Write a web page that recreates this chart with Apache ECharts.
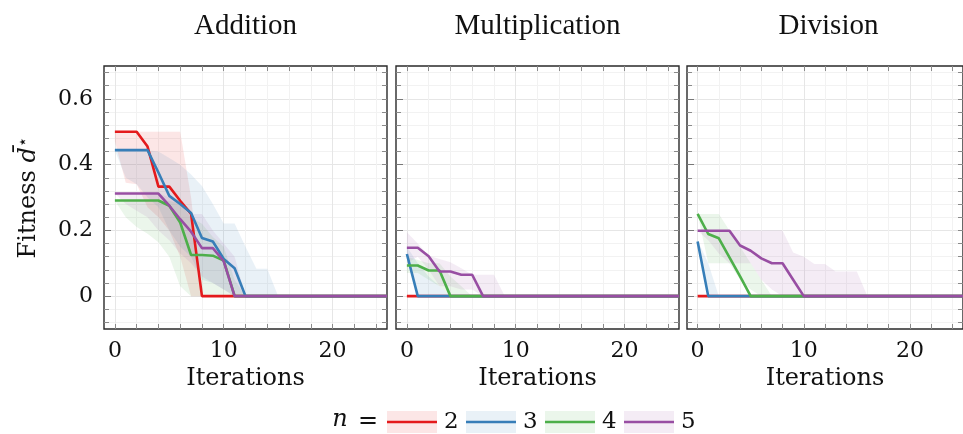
<!DOCTYPE html>
<html><head><meta charset="utf-8">
<script src="https://cdn.jsdelivr.net/npm/echarts@6/dist/echarts.min.js"></script>
<style>html,body{margin:0;padding:0;background:#fff}#c{width:963px;height:434px}</style>
</head><body><div id="c"></div>
<script>
// ---------- data ----------
const iterations = [0,1,2,3,4,5,6,7,8,9,10,11,12,13,14,15,16,17,18,19,20,21,22,23,24,25];
const panelTitles = ['Addition', 'Multiplication', 'Division'];
const nLabels = ['2', '3', '4', '5'];
const xTickLabels = ['0', '10', '20'];
const yTickLabels = [0, 0.2, 0.4, 0.6];
const yMinorTicks = [-0.08,-0.04,0,0.04,0.08,0.12,0.16,0.2,0.24,0.28,0.32,0.36,0.4,0.44,0.48,0.52,0.56,0.6,0.64,0.68];

// Addition
const add2Mean = [0.5,0.5,0.5,0.455,0.333,0.333,0.29,0.25,0,0,0,0,0,0,0,0,0,0,0,0,0,0,0,0,0,0];
const add2Lo   = [0.47,0.345,0.34,0.27,0.24,0.2,0.12,0,0,0,0,0,0,0,0,0,0,0,0,0,0,0,0,0,0,0];
const add2Hi   = [0.5,0.5,0.5,0.5,0.5,0.5,0.5,0.3,0,0,0,0,0,0,0,0,0,0,0,0,0,0,0,0,0,0];
const add3Mean = [0.444,0.444,0.444,0.444,0.376,0.305,0.28,0.253,0.177,0.166,0.113,0.085,0,0,0,0,0,0,0,0,0,0,0,0,0,0];
const add3Lo   = [0.444,0.36,0.34,0.3,0.27,0.2,0.15,0.12,0.05,0.04,0.02,0,0,0,0,0,0,0,0,0,0,0,0,0,0,0];
const add3Hi   = [0.444,0.444,0.444,0.444,0.44,0.42,0.4,0.37,0.335,0.28,0.221,0.221,0.15,0.083,0.083,0,0,0,0,0,0,0,0,0,0,0];
const add4Mean = [0.291,0.291,0.291,0.291,0.291,0.275,0.224,0.125,0.125,0.123,0.108,0,0,0,0,0,0,0,0,0,0,0,0,0,0,0];
const add4Lo   = [0.29,0.24,0.21,0.19,0.164,0.12,0.03,0,0,0,0,0,0,0,0,0,0,0,0,0,0,0,0,0,0,0];
const add4Hi   = [0.291,0.291,0.291,0.291,0.291,0.29,0.28,0.24,0.22,0.18,0.15,0.05,0,0,0,0,0,0,0,0,0,0,0,0,0,0];
const add5Mean = [0.312,0.312,0.312,0.312,0.312,0.275,0.234,0.196,0.146,0.146,0.106,0,0,0,0,0,0,0,0,0,0,0,0,0,0,0];
const add5Lo   = [0.312,0.28,0.26,0.24,0.2,0.17,0.13,0.1,0.06,0.04,0.02,0,0,0,0,0,0,0,0,0,0,0,0,0,0,0];
const add5Hi   = [0.312,0.312,0.312,0.312,0.312,0.3,0.28,0.25,0.25,0.2,0.16,0.12,0,0,0,0,0,0,0,0,0,0,0,0,0,0];

// Multiplication
const mul2Mean = [0,0,0,0,0,0,0,0,0,0,0,0,0,0,0,0,0,0,0,0,0,0,0,0,0,0];
const mul2Lo   = [0,0,0,0,0,0,0,0,0,0,0,0,0,0,0,0,0,0,0,0,0,0,0,0,0,0];
const mul2Hi   = [0,0,0,0,0,0,0,0,0,0,0,0,0,0,0,0,0,0,0,0,0,0,0,0,0,0];
const mul3Mean = [0.128,0,0,0,0,0,0,0,0,0,0,0,0,0,0,0,0,0,0,0,0,0,0,0,0,0];
const mul3Lo   = [0.11,0,0,0,0,0,0,0,0,0,0,0,0,0,0,0,0,0,0,0,0,0,0,0,0,0];
const mul3Hi   = [0.15,0.1,0.06,0.03,0,0,0,0,0,0,0,0,0,0,0,0,0,0,0,0,0,0,0,0,0,0];
const mul4Mean = [0.093,0.093,0.078,0.078,0,0,0,0,0,0,0,0,0,0,0,0,0,0,0,0,0,0,0,0,0,0];
const mul4Lo   = [0.07,0.07,0.05,0.03,0,0,0,0,0,0,0,0,0,0,0,0,0,0,0,0,0,0,0,0,0,0];
const mul4Hi   = [0.12,0.11,0.1,0.1,0.06,0.03,0,0,0,0,0,0,0,0,0,0,0,0,0,0,0,0,0,0,0,0];
const mul5Mean = [0.147,0.147,0.121,0.075,0.075,0.065,0.065,0,0,0,0,0,0,0,0,0,0,0,0,0,0,0,0,0,0,0];
const mul5Lo   = [0.1,0.12,0.08,0.03,0.03,0.02,0.02,0,0,0,0,0,0,0,0,0,0,0,0,0,0,0,0,0,0,0];
const mul5Hi   = [0.194,0.16,0.123,0.113,0.103,0.085,0.065,0.065,0.065,0,0,0,0,0,0,0,0,0,0,0,0,0,0,0,0,0];

// Division
const div2Mean = [0,0,0,0,0,0,0,0,0,0,0,0,0,0,0,0,0,0,0,0,0,0,0,0,0,0];
const div2Lo   = [0,0,0,0,0,0,0,0,0,0,0,0,0,0,0,0,0,0,0,0,0,0,0,0,0,0];
const div2Hi   = [0,0,0,0,0,0,0,0,0,0,0,0,0,0,0,0,0,0,0,0,0,0,0,0,0,0];
const div3Mean = [0.166,0,0,0,0,0,0,0,0,0,0,0,0,0,0,0,0,0,0,0,0,0,0,0,0,0];
const div3Lo   = [0.16,0,0,0,0,0,0,0,0,0,0,0,0,0,0,0,0,0,0,0,0,0,0,0,0,0];
const div3Hi   = [0.17,0.1,0,0,0,0,0,0,0,0,0,0,0,0,0,0,0,0,0,0,0,0,0,0,0,0];
const div4Mean = [0.25,0.189,0.176,0.118,0.06,0,0,0,0,0,0,0,0,0,0,0,0,0,0,0,0,0,0,0,0,0];
const div4Lo   = [0.25,0.1,0.1,0.1,0.05,0.02,0,0,0,0,0,0,0,0,0,0,0,0,0,0,0,0,0,0,0,0];
const div4Hi   = [0.25,0.25,0.25,0.2,0.15,0.1,0.05,0,0,0,0,0,0,0,0,0,0,0,0,0,0,0,0,0,0,0];
const div5Mean = [0.199,0.199,0.199,0.199,0.154,0.138,0.115,0.1,0.1,0.05,0,0,0,0,0,0,0,0,0,0,0,0,0,0,0,0];
const div5Lo   = [0.199,0.17,0.13,0.1,0.1,0.1,0.05,0.02,0,0,0,0,0,0,0,0,0,0,0,0,0,0,0,0,0,0];
const div5Hi   = [0.2,0.2,0.2,0.2,0.2,0.2,0.2,0.2,0.2,0.133,0.12,0.098,0.098,0.075,0.075,0.075,0,0,0,0,0,0,0,0,0,0];

// ---------- build ----------
const colors = ['#e41a1c', '#377eb8', '#4daf4a', '#984ea3'];
const bandColors = ['rgba(228,26,28,0.11)', 'rgba(55,126,184,0.11)', 'rgba(77,175,74,0.11)', 'rgba(152,78,163,0.11)'];
const panelData = [
  [[add2Mean, add2Lo, add2Hi], [add3Mean, add3Lo, add3Hi], [add4Mean, add4Lo, add4Hi], [add5Mean, add5Lo, add5Hi]],
  [[mul2Mean, mul2Lo, mul2Hi], [mul3Mean, mul3Lo, mul3Hi], [mul4Mean, mul4Lo, mul4Hi], [mul5Mean, mul5Lo, mul5Hi]],
  [[div2Mean, div2Lo, div2Hi], [div3Mean, div3Lo, div3Hi], [div4Mean, div4Lo, div4Hi], [div5Mean, div5Lo, div5Hi]]
];
const xCats = ['-1'].concat(iterations.map(String));
const FONT = 'DejaVu Serif';
const gridLefts = [104, 396, 687];
const gridW = 283, gridTop = 66, gridH = 263;

const every2 = (i, v) => Number(v) >= 0 && Number(v) % 2 === 0;
const labelAt = (i, v) => xTickLabels.indexOf(String(v)) >= 0;

const grids = [], xAxes = [], yAxes = [], bandSeries = [], lineSeries = [];
for (let g = 0; g < 3; g++) {
  grids.push({ left: gridLefts[g], top: gridTop, width: gridW, height: gridH, show: true,
    borderColor: '#2a2a2a', borderWidth: 1.4, backgroundColor: 'transparent' });
  const xi = xAxes.length;
  xAxes.push({ type: 'category', gridIndex: g, data: xCats, boundaryGap: false, position: 'bottom',
    axisLine: { show: false, onZero: false },
    axisTick: { show: true, inside: true, length: 5, interval: every2, lineStyle: { color: '#8a8a8a' } },
    axisLabel: { interval: labelAt, margin: 11, fontFamily: FONT, fontSize: 22, color: '#111' },
    splitLine: { show: true, interval: every2, lineStyle: { color: '#f2f2f2', width: 1 } },
    name: 'Iterations', nameLocation: 'middle', nameGap: 36,
    nameTextStyle: { fontFamily: FONT, fontSize: 24, color: '#111' } });
  xAxes.push({ type: 'category', gridIndex: g, data: xCats, boundaryGap: false, position: 'top',
    axisLine: { show: false, onZero: false },
    axisTick: { show: true, inside: true, length: 5, interval: every2, lineStyle: { color: '#8a8a8a' } },
    axisLabel: { show: false }, splitLine: { show: false } });
  xAxes.push({ type: 'category', gridIndex: g, data: xCats, boundaryGap: false, position: 'bottom',
    axisLine: { show: false, onZero: false }, axisTick: { show: false }, axisLabel: { show: false },
    splitLine: { show: true, interval: labelAt, lineStyle: { color: '#e6e6e6', width: 1 } } });

  const yi = yAxes.length;
  const yMain = { type: 'value', gridIndex: g, min: -0.1, max: 0.7, position: 'left',
    axisLine: { show: false, onZero: false },
    axisTick: { show: true, inside: true, length: 5, customValues: yMinorTicks, lineStyle: { color: '#8a8a8a' } },
    axisLabel: { show: g === 0, customValues: yTickLabels, margin: 11, fontFamily: FONT, fontSize: 22, color: '#111',
      formatter: v => (Math.abs(v) < 1e-9 ? '0' : v.toFixed(1)) },
    splitLine: { show: true, lineStyle: { color: '#f2f2f2', width: 1 } } };
  if (g === 0) {
    yMain.name = '{a|Fitness }{b|d\u0304}{c|\u22c6}';
    yMain.nameLocation = 'middle';
    yMain.nameGap = 62;
    yMain.nameTextStyle = { rich: {
      a: { fontFamily: FONT, fontSize: 24, color: '#111' },
      b: { fontFamily: FONT, fontSize: 24, fontStyle: 'italic', color: '#111' },
      c: { fontFamily: 'DejaVu Sans', fontSize: 17, color: '#111', verticalAlign: 'top', padding: [0, 0, 10, 0] } } };
  }
  yAxes.push(yMain);
  yAxes.push({ type: 'value', gridIndex: g, min: -0.1, max: 0.7, position: 'right',
    axisLine: { show: false, onZero: false },
    axisTick: { show: true, inside: true, length: 5, customValues: yMinorTicks, lineStyle: { color: '#8a8a8a' } },
    axisLabel: { show: false }, splitLine: { show: false } });
  yAxes.push({ type: 'value', gridIndex: g, min: -0.1, max: 0.7, position: 'left',
    axisLine: { show: false, onZero: false },
    axisTick: { show: true, inside: true, length: 7, customValues: yTickLabels, lineStyle: { color: '#777' } },
    axisLabel: { show: false },
    splitLine: { show: true, lineStyle: { color: '#e6e6e6', width: 1 } } });

  for (let k = 0; k < 4; k++) {
    const [mean, lo, hi] = panelData[g][k];
    const stackId = 'band' + g + '_' + k;
    bandSeries.push({ type: 'line', xAxisIndex: xi, yAxisIndex: yi, stack: stackId, symbol: 'none', silent: true,
      data: ['-'].concat(lo), lineStyle: { width: 0, opacity: 0 }, z: 2 });
    bandSeries.push({ type: 'line', xAxisIndex: xi, yAxisIndex: yi, stack: stackId, symbol: 'none', silent: true,
      data: ['-'].concat(hi.map((h, i) => h - lo[i])), lineStyle: { width: 0, opacity: 0 },
      areaStyle: { color: bandColors[k], opacity: 1 }, z: 2 });
    lineSeries.push({ type: 'line', name: nLabels[k], xAxisIndex: xi, yAxisIndex: yi, symbol: 'none',
      data: ['-'].concat(mean), lineStyle: { width: 2.6, color: colors[k] }, itemStyle: { color: colors[k] }, z: 3 });
  }
}

const graphics = [];
for (let g = 0; g < 3; g++) {
  graphics.push({ type: 'text', x: gridLefts[g] + gridW / 2, y: 26,
    style: { text: panelTitles[g], font: '29px "Liberation Serif"', fill: '#111',
      align: 'center', verticalAlign: 'middle', textAlign: 'center', textVerticalAlign: 'middle' } });
}
// legend
const legY = 422;
graphics.push({ type: 'text', x: 340, y: legY - 2, style: { text: 'n', font: 'italic 24px "DejaVu Serif"', fill: '#111',
  align: 'center', verticalAlign: 'middle', textAlign: 'center', textVerticalAlign: 'middle' } });
graphics.push({ type: 'text', x: 368, y: legY, style: { text: '=', font: '24px "DejaVu Serif"', fill: '#111',
  align: 'center', verticalAlign: 'middle', textAlign: 'center', textVerticalAlign: 'middle' } });
const legX = [387, 466, 545, 624];
for (let k = 0; k < 4; k++) {
  graphics.push({ type: 'rect', shape: { x: legX[k], y: 411, width: 50, height: 22 }, style: { fill: bandColors[k] } });
  graphics.push({ type: 'line', shape: { x1: legX[k], y1: legY, x2: legX[k] + 50, y2: legY }, style: { stroke: colors[k], lineWidth: 2.6 } });
  graphics.push({ type: 'text', x: legX[k] + 57, y: legY, style: { text: nLabels[k], font: '23px "DejaVu Serif"', fill: '#111',
    align: 'left', verticalAlign: 'middle', textAlign: 'left', textVerticalAlign: 'middle' } });
}

const chart = echarts.init(document.getElementById('c'), null, { renderer: 'canvas' });
chart.setOption({
  animation: false,
  backgroundColor: '#fff',
  grid: grids,
  xAxis: xAxes,
  yAxis: yAxes,
  series: bandSeries.concat(lineSeries),
  graphic: graphics
});
</script>
</body></html>
